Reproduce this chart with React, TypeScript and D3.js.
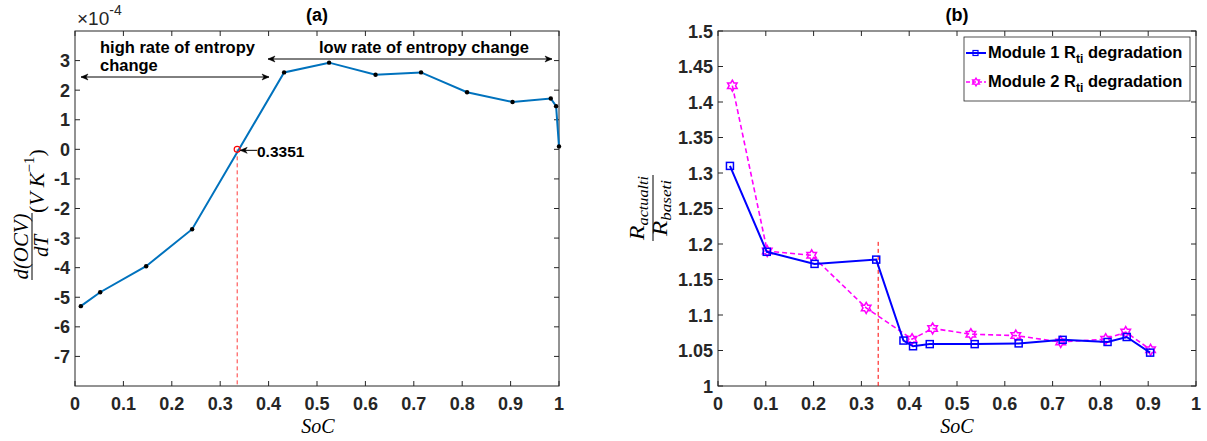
import React from "react";
import * as d3 from "d3";

// ---------- data (a) ----------
const socA = [0.012, 0.052, 0.147, 0.242, 0.432, 0.525, 0.621, 0.715, 0.81, 0.904, 0.983, 0.994, 1.0];
const dOcvA = [-5.3, -4.83, -3.95, -2.7, 2.6, 2.93, 2.52, 2.6, 1.93, 1.6, 1.72, 1.46, 0.1];
const zeroSoC = 0.3351;
const yTicksA = [-7, -6, -5, -4, -3, -2, -1, 0, 1, 2, 3];
const xTicks = [0, 0.1, 0.2, 0.3, 0.4, 0.5, 0.6, 0.7, 0.8, 0.9, 1];
const xTickLabels = ["0", "0.1", "0.2", "0.3", "0.4", "0.5", "0.6", "0.7", "0.8", "0.9", "1"];

// ---------- data (b) ----------
const socB1 = [0.025, 0.102, 0.202, 0.331, 0.388, 0.408, 0.443, 0.537, 0.629, 0.721, 0.815, 0.855, 0.904];
const rB1 = [1.31, 1.189, 1.172, 1.178, 1.064, 1.056, 1.059, 1.059, 1.06, 1.065, 1.062, 1.069, 1.047];
const socB2 = [0.03, 0.103, 0.196, 0.31, 0.406, 0.449, 0.529, 0.623, 0.717, 0.811, 0.853, 0.905];
const rB2 = [1.423, 1.19, 1.184, 1.11, 1.066, 1.081, 1.073, 1.071, 1.062, 1.066, 1.076, 1.051];
const yTicksB = [1, 1.05, 1.1, 1.15, 1.2, 1.25, 1.3, 1.35, 1.4, 1.45, 1.5];
const yTickLabelsB = ["1", "1.05", "1.1", "1.15", "1.2", "1.25", "1.3", "1.35", "1.4", "1.45", "1.5"];
const legendLabels = ["Module 1 R", "Module 2 R"];

const AX = "#262626";
const SANS = "'Liberation Sans', Arial, Helvetica, sans-serif";
const SERIF = "'Liberation Serif', 'Times New Roman', serif";

function hexagram(r: number) {
  const pts: [number, number][] = [];
  for (let i = 0; i < 12; i++) {
    const a = -Math.PI / 2 + (i * Math.PI) / 6;
    const rr = i % 2 === 0 ? r : r / Math.sqrt(3);
    pts.push([rr * Math.cos(a), rr * Math.sin(a)]);
  }
  return "M" + pts.map((p) => p[0].toFixed(2) + "," + p[1].toFixed(2)).join("L") + "Z";
}

function Frame({ x, y, xt, yt, yLabels, yLabelX }: any) {
  const [x0, x1] = x.range();
  const [y0, y1] = y.range();
  const tl = 5;
  return (
    <g>
      <rect x={x0} y={y1} width={x1 - x0} height={y0 - y1} fill="none" stroke={AX} strokeWidth={1} />
      {xt.map((t: number, i: number) => (
        <g key={"x" + i}>
          <line x1={x(t)} x2={x(t)} y1={y0} y2={y0 - tl} stroke={AX} />
          <line x1={x(t)} x2={x(t)} y1={y1} y2={y1 + tl} stroke={AX} />
          <text x={x(t)} y={y0 + 24} textAnchor="middle" fontFamily={SANS} fontWeight="bold" fontSize={18} fill={AX}>
            {xTickLabels[i]}
          </text>
        </g>
      ))}
      {yt.map((t: number, i: number) => (
        <g key={"y" + i}>
          <line x1={x0} x2={x0 + tl} y1={y(t)} y2={y(t)} stroke={AX} />
          <line x1={x1} x2={x1 - tl} y1={y(t)} y2={y(t)} stroke={AX} />
          <text x={yLabelX} y={y(t) + 6.5} textAnchor="end" fontFamily={SANS} fontWeight="bold" fontSize={18} fill={AX}>
            {yLabels[i]}
          </text>
        </g>
      ))}
    </g>
  );
}

function Arrow({ x1, x2, y, left = true, right = true }: any) {
  const h = 7, w = 3;
  return (
    <g stroke="#000" fill="#000">
      <line x1={x1} x2={x2} y1={y} y2={y} strokeWidth={1} />
      {left && <path d={`M${x1},${y}L${x1 + h},${y - w}L${x1 + h - 2},${y}L${x1 + h},${y + w}Z`} strokeWidth={0.5} />}
      {right && <path d={`M${x2},${y}L${x2 - h},${y - w}L${x2 - h + 2},${y}L${x2 - h},${y + w}Z`} strokeWidth={0.5} />}
    </g>
  );
}

export default function App() {
  // panel (a)
  const xA = d3.scaleLinear().domain([0, 1]).range([75, 559]);
  const yA = d3.scaleLinear().domain([-8, 4]).range([386, 31]);
  const lineA = d3
    .line<number>()
    .x((_, i) => xA(socA[i]))
    .y((d) => yA(d));

  // panel (b)
  const xB = d3.scaleLinear().domain([0, 1]).range([718, 1196]);
  const yB = d3.scaleLinear().domain([1, 1.5]).range([386, 31]);
  const line1 = d3
    .line<number>()
    .x((_, i) => xB(socB1[i]))
    .y((d) => yB(d));
  const line2 = d3
    .line<number>()
    .x((_, i) => xB(socB2[i]))
    .y((d) => yB(d));

  const star = hexagram(5.5);

  return (
    <svg width={1207} height={441} style={{ position: "absolute", left: 0, top: 0, background: "#fff" }}>
      <rect width={1207} height={441} fill="#fff" />

      {/* ================= panel (a) ================= */}
      <Frame x={xA} y={yA} xt={xTicks} yt={yTicksA} yLabels={yTicksA.map(String)} yLabelX={70} />
      <text x={317} y={21} textAnchor="middle" fontFamily={SANS} fontWeight="bold" fontSize={18} fill="#000">(a)</text>
      <text x={77} y={25} fontFamily={SANS} fontSize={19} fill={AX}>
        ×10<tspan dy={-10} fontSize={14}>-4</tspan>
      </text>

      <line x1={xA(zeroSoC)} x2={xA(zeroSoC)} y1={yA(0)} y2={yA(-8)} stroke="#ff3b3b" strokeWidth={1} strokeDasharray="4,3" />
      <path d={lineA(dOcvA) || ""} fill="none" stroke="#0072BD" strokeWidth={2} />
      {dOcvA.map((v, i) => (
        <circle key={i} cx={xA(socA[i])} cy={yA(v)} r={2.2} fill="#000" />
      ))}
      <circle cx={xA(zeroSoC)} cy={yA(0)} r={3} fill="none" stroke="#ff0000" strokeWidth={1.2} />
      <Arrow x1={xA(zeroSoC) + 3} x2={xA(zeroSoC) + 20} y={yA(0) + 1} right={false} />
      <text x={257} y={157} fontFamily={SANS} fontWeight="bold" fontSize={15.5} fill="#000">0.3351</text>

      <text x={100} y={53} fontFamily={SANS} fontWeight="bold" fontSize={16.5} fill="#000">high rate of entropy</text>
      <text x={100} y={71} fontFamily={SANS} fontWeight="bold" fontSize={16.5} fill="#000">change</text>
      <Arrow x1={81} x2={269} y={77} />
      <text x={424} y={53} textAnchor="middle" fontFamily={SANS} fontWeight="bold" fontSize={16.5} fill="#000">low rate of entropy change</text>
      <Arrow x1={268} x2={552} y={59} />

      {/* y label (a) */}
      <g transform="translate(32,207) rotate(-90)" fontFamily={SERIF} fontStyle="italic" fill="#000">
        <text x={-39.5} y={-4} textAnchor="middle" fontSize={21} textLength={66} lengthAdjust="spacingAndGlyphs">d(OCV)</text>
        <line x1={-73} x2={-6} y1={0} y2={0} stroke="#000" strokeWidth={1} />
        <text x={-39} y={16} textAnchor="middle" fontSize={21}>dT</text>
        <text x={-6} y={12} fontSize={22}>
          <tspan fontStyle="normal">(</tspan>V K<tspan dy={-10} fontSize={15} fontStyle="normal">−1</tspan>
          <tspan dy={10} fontStyle="normal">)</tspan>
        </text>
      </g>
      <text x={318} y={433} textAnchor="middle" fontFamily={SERIF} fontStyle="italic" fontSize={20} fill="#000">SoC</text>

      {/* ================= panel (b) ================= */}
      <Frame x={xB} y={yB} xt={xTicks} yt={yTicksB} yLabels={yTickLabelsB} yLabelX={713} />
      <text x={957} y={21} textAnchor="middle" fontFamily={SANS} fontWeight="bold" fontSize={18} fill="#000">(b)</text>

      <line x1={xB(zeroSoC)} x2={xB(zeroSoC)} y1={yB(1.203)} y2={yB(1)} stroke="#ff0000" strokeWidth={1} strokeDasharray="4,3" />

      <path d={line2(rB2) || ""} fill="none" stroke="#ff00ff" strokeWidth={1.6} strokeDasharray="5,3" />
      {rB2.map((v, i) => (
        <path key={i} d={star} transform={`translate(${xB(socB2[i])},${yB(v)})`} fill="none" stroke="#ff00ff" strokeWidth={1.5} />
      ))}
      <path d={line1(rB1) || ""} fill="none" stroke="#0000ff" strokeWidth={2} />
      {rB1.map((v, i) => (
        <rect key={i} x={xB(socB1[i]) - 3.5} y={yB(v) - 3.5} width={7} height={7} fill="none" stroke="#0000ff" strokeWidth={1.5} />
      ))}

      {/* legend */}
      <g>
        <rect x={964} y={37} width={226} height={64} fill="#fff" stroke={AX} strokeWidth={0.8} />
        <line x1={966} x2={986} y1={53} y2={53} stroke="#0000ff" strokeWidth={2} />
        <rect x={973} y={50.5} width={5} height={5} fill="none" stroke="#0000ff" strokeWidth={1.2} />
        <line x1={966} x2={986} y1={82} y2={82} stroke="#ff00ff" strokeWidth={1.6} strokeDasharray="4,2" />
        <path d={hexagram(4)} transform="translate(976,82)" fill="none" stroke="#ff00ff" strokeWidth={1.3} />
        {legendLabels.map((l, i) => (
          <text key={i} x={988} y={58 + i * 29} fontFamily={SANS} fontWeight="bold" fontSize={16.5} fill="#000">
            {l}
            <tspan dy={5} fontSize={12}>ti</tspan>
            <tspan dy={-5}> degradation</tspan>
          </text>
        ))}
      </g>

      {/* y label (b) */}
      <g transform="translate(653,208) rotate(-90)" fontFamily={SERIF} fontStyle="italic" fill="#000">
        <text x={0} y={-9} textAnchor="middle" fontSize={22} textLength={64} lengthAdjust="spacingAndGlyphs">
          R<tspan dy={4} fontSize={15}>actualti</tspan>
        </text>
        <line x1={-33} x2={33} y1={0} y2={0} stroke="#000" strokeWidth={1} />
        <text x={0} y={14} textAnchor="middle" fontSize={22} textLength={56} lengthAdjust="spacingAndGlyphs">
          R<tspan dy={4} fontSize={15}>baseti</tspan>
        </text>
      </g>
      <text x={957} y={433} textAnchor="middle" fontFamily={SERIF} fontStyle="italic" fontSize={20} fill="#000">SoC</text>
    </svg>
  );
}
